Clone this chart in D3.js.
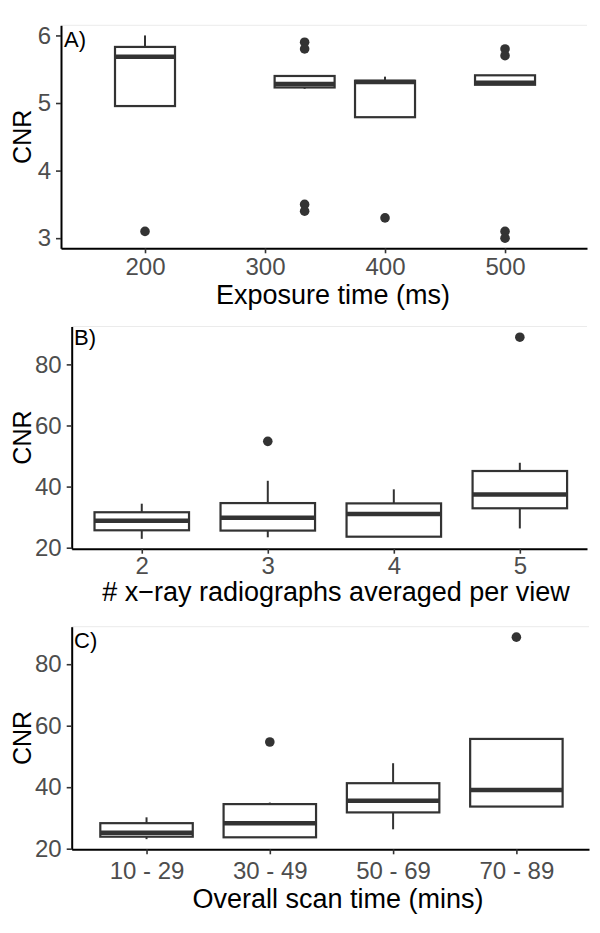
<!DOCTYPE html>
<html>
<head>
<meta charset="utf-8">
<script src="https://cdn.jsdelivr.net/npm/d3@7"></script>
<style>
  html, body { margin: 0; padding: 0; background: #fff; }
  svg { display: block; font-family: "Liberation Sans", Arial, sans-serif; }
</style>
</head>
<body>
<svg id="chart" width="600" height="933"></svg>
<script>
// ---------- Panel A: exposure time ----------
const expoX     = [200, 333, 400, 500];
const expoTicks = [200, 300, 400, 500];
const expoQ1    = [4.955, 5.23, 4.79, 5.27];
const expoMed   = [5.685, 5.28, 5.31, 5.30];
const expoQ3    = [5.83, 5.40, 5.33, 5.41];
const expoLo    = [4.955, 5.21, 4.79, 5.27];
const expoHi    = [6.00, 5.40, 5.39, 5.41];
const expoOut   = [[3.1], [5.9, 5.8, 3.5, 3.4], [3.3], [5.8, 5.7, 3.1, 3.0]];
const expoYTicks = [3, 4, 5, 6];

// ---------- Panel B: radiographs averaged ----------
const radCats = ["2", "3", "4", "5"];
const radQ1   = [25.7, 25.6, 23.6, 32.9];
const radMed  = [28.8, 29.8, 31.0, 37.4];
const radQ3   = [31.6, 34.6, 34.5, 45.1];
const radLo   = [22.9, 23.4, 23.6, 26.3];
const radHi   = [34.4, 41.9, 39.1, 47.8];
const radOut  = [[], [54.8], [], [88.9]];

// ---------- Panel C: overall scan time ----------
const scanCats = ["10 - 29", "30 - 49", "50 - 69", "70 - 89"];
const scanQ1   = [23.9, 23.7, 31.8, 33.7];
const scanMed  = [25.2, 28.3, 35.6, 39.1];
const scanQ3   = [28.3, 34.5, 41.3, 55.7];
const scanLo   = [23.1, 23.7, 26.3, 33.7];
const scanHi   = [30.2, 35.0, 47.8, 55.7];
const scanOut  = [[], [54.7], [], [88.8]];

const cnrTicks = [20, 40, 60, 80];

const svg = d3.select("#chart");
const BOX = "#333333";

function panel(cfg) {
  const g = svg.append("g");
  const x = cfg.x, y = cfg.y;
  const [x0, x1] = x.range();
  const [yb, yt] = y.range();

  // faint top border
  g.append("line").attr("x1", x0).attr("x2", x1).attr("y1", yt).attr("y2", yt)
    .attr("stroke", "#ebebeb").attr("stroke-width", 1);

  const n = cfg.q1.length;
  for (let i = 0; i < n; i++) {
    const cx = x(cfg.pos[i]);
    const hw = (x(cfg.pos[i] + cfg.bw / 2) - x(cfg.pos[i] - cfg.bw / 2)) / 2;
    // whiskers
    g.append("line").attr("x1", cx).attr("x2", cx)
      .attr("y1", y(cfg.hi[i])).attr("y2", y(cfg.q3[i]))
      .attr("stroke", BOX).attr("stroke-width", 2);
    g.append("line").attr("x1", cx).attr("x2", cx)
      .attr("y1", y(cfg.q1[i])).attr("y2", y(cfg.lo[i]))
      .attr("stroke", BOX).attr("stroke-width", 2);
    // box
    g.append("rect").attr("x", cx - hw).attr("width", 2 * hw)
      .attr("y", y(cfg.q3[i])).attr("height", y(cfg.q1[i]) - y(cfg.q3[i]))
      .attr("fill", "#fff").attr("stroke", BOX).attr("stroke-width", 2.2);
    // median
    g.append("line").attr("x1", cx - hw).attr("x2", cx + hw)
      .attr("y1", y(cfg.med[i])).attr("y2", y(cfg.med[i]))
      .attr("stroke", BOX).attr("stroke-width", 4.5);
    // outliers
    cfg.out[i].forEach(v => {
      g.append("circle").attr("cx", cx).attr("cy", y(v)).attr("r", 4.8)
        .attr("fill", BOX);
    });
  }

  // axes
  const ya = d3.axisLeft(y).tickValues(cfg.yTicks).tickFormat(d3.format("d"))
    .tickSize(5).tickPadding(5).tickSizeOuter(0);
  const ga = g.append("g").attr("transform", `translate(${x0},0)`).call(ya);
  const xa = d3.axisBottom(x).tickValues(cfg.xTicks).tickFormat(cfg.xFmt)
    .tickSize(5).tickPadding(cfg.xPad).tickSizeOuter(0);
  const gx = g.append("g").attr("transform", `translate(0,${yb})`).call(xa);
  [ga, gx].forEach(a => {
    a.select(".domain").attr("stroke", "#000").attr("stroke-width", 2);
    a.selectAll(".tick line").attr("stroke", "#333").attr("stroke-width", 1.6);
    a.selectAll(".tick text").attr("fill", "#4d4d4d")
      .style("font-size", "24px").style("font-family", '"Liberation Sans", Arial, sans-serif');
  });

  // panel letter
  g.append("text").attr("x", cfg.letterX).attr("y", cfg.letterY)
    .style("font-size", "22px").attr("fill", "#000").text(cfg.letter);

  // y title
  g.append("text")
    .attr("transform", `translate(${cfg.yTitleX},${(yb + yt) / 2}) rotate(-90)`)
    .attr("text-anchor", "middle").style("font-size", "25px").attr("fill", "#000")
    .text("CNR");
  // x title
  g.append("text").attr("x", cfg.xTitleX).attr("y", cfg.xTitleY)
    .attr("text-anchor", "middle").style("font-size", "27px").attr("fill", "#000")
    .text(cfg.xTitle);
}

// Panel A
panel({
  x: d3.scaleLinear().domain([130, 568.3]).range([61, 587]),
  y: d3.scaleLinear().domain([2.85, 6.15]).range([248.3, 25.3]),
  pos: expoX, bw: 50,
  q1: expoQ1, med: expoMed, q3: expoQ3, lo: expoLo, hi: expoHi, out: expoOut,
  yTicks: expoYTicks, xTicks: expoTicks, xFmt: d => d, xPad: 5,
  letter: "A)", letterX: 64, letterY: 46.5,
  yTitleX: 31, xTitle: "Exposure time (ms)", xTitleX: 333, xTitleY: 303.5
});

// Panel B
panel({
  x: d3.scaleLinear().domain([-0.556, 3.533]).range([71.7, 587]),
  y: d3.scaleLinear().domain([19.67, 92.4]).range([548.7, 326.5]),
  pos: radCats.map((d, i) => i), bw: 0.75,
  q1: radQ1, med: radMed, q3: radQ3, lo: radLo, hi: radHi, out: radOut,
  yTicks: cnrTicks, xTicks: radCats.map((d, i) => i), xFmt: i => radCats[i], xPad: 3,
  letter: "B)", letterX: 74, letterY: 345,
  yTitleX: 31, xTitle: "# x\u2212ray radiographs averaged per view", xTitleX: 336, xTitleY: 600.5
});

// Panel C
panel({
  x: d3.scaleLinear().domain([-0.607, 3.589]).range([71.7, 589]),
  y: d3.scaleLinear().domain([19.8, 92.2]).range([849.3, 626.7]),
  pos: scanCats.map((d, i) => i), bw: 0.75,
  q1: scanQ1, med: scanMed, q3: scanQ3, lo: scanLo, hi: scanHi, out: scanOut,
  yTicks: cnrTicks, xTicks: scanCats.map((d, i) => i), xFmt: i => scanCats[i], xPad: 7.5,
  letter: "C)", letterX: 74, letterY: 648,
  yTitleX: 31, xTitle: "Overall scan time (mins)", xTitleX: 338, xTitleY: 908
});
</script>
</body>
</html>
